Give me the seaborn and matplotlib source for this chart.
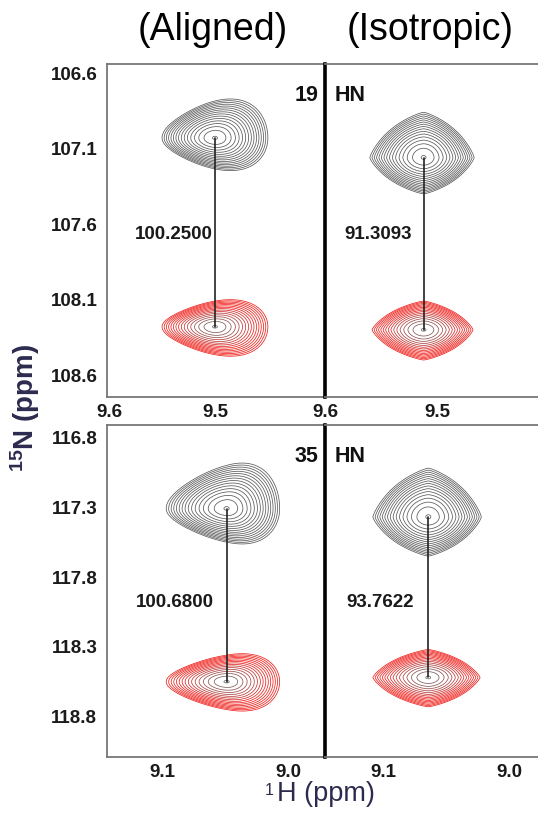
import numpy as np
import pandas as pd
import matplotlib
matplotlib.use("Agg")
import matplotlib.pyplot as plt
import seaborn as sns

# ---------------------------------------------------------------
# data (ppm)
# ---------------------------------------------------------------
residues = ["19", "35"]
coupling_aligned = ["100.2500", "100.6800"]
coupling_isotropic = ["91.3093", "93.7622"]

h_aligned = [9.500, 9.049]
h_isotropic = [9.512, 9.064]
n_upper_aligned = [107.03, 117.31]
n_lower_aligned = [108.28, 118.55]
n_upper_isotropic = [107.16, 117.37]
n_lower_isotropic = [108.30, 118.52]

# outer contour half widths: left, right, up, down
ext_upper_aligned = [(0.050, 0.050, 0.245, 0.205), (0.048, 0.042, 0.31, 0.24)]
ext_lower_aligned = [(0.050, 0.050, 0.170, 0.185), (0.048, 0.042, 0.19, 0.20)]
ext_upper_isotropic = [(0.048, 0.045, 0.30, 0.24), (0.044, 0.042, 0.35, 0.28)]
ext_lower_isotropic = [(0.046, 0.044, 0.19, 0.20), (0.044, 0.041, 0.20, 0.21)]

# where the coupling numbers sit (1H, 15N)
label_h_aligned = [9.539, 9.0905]
label_h_isotropic = [9.553, 9.1024]
label_n = [107.67, 117.98]

x_ticks = [[9.6, 9.5], [9.1, 9.0]]
y_ticks = [[106.6, 107.1, 107.6, 108.1, 108.6], [116.8, 117.3, 117.8, 118.3, 118.8]]
xlim_aligned = [(9.602, 9.396), (9.144, 8.971)]
xlim_isotropic = [(9.600, 9.410), (9.146, 8.977)]
ylims = [(108.745, 106.54), (119.09, 116.71)]

# ---------------------------------------------------------------
sns.set_style("white")
plt.rcParams["font.family"] = ["Liberation Sans", "DejaVu Sans"]
plt.rcParams["mathtext.fontset"] = "custom"
plt.rcParams["mathtext.rm"] = "Liberation Sans"
plt.rcParams["mathtext.bf"] = "Liberation Sans:bold"

fig = plt.figure(figsize=(5.38, 8.15), dpi=100)

row_boxes = [(0.5129, 0.4086), (0.0712, 0.4074)]
left_x, left_w = 0.1989, 0.4052
right_x, right_w = 0.6041, 0.3959


def peak_field(cx, cy, ext, p, tilt):
    wl, wr, wu, wd = ext
    xs = np.linspace(cx + wl * 1.3, cx - wr * 1.3, 400)
    ys = np.linspace(cy - wu * 1.3, cy + wd * 1.3, 400)
    X, Y = np.meshgrid(xs, ys)
    u = -(X - cx)
    u = np.where(u < 0, u / wl, u / wr)
    v = Y - cy
    v = np.where(v < 0, v / wu, v / wd)
    v = v / np.clip(1 + tilt * u, 0.2, None)
    # round in the middle, sharper toward the rim
    r = np.sqrt(u ** 2 + v ** 2)
    pr = (np.abs(u) ** p + np.abs(v) ** p) ** (1 / p)
    w = np.clip(r, 0, 1) ** 1.5
    return X, Y, (1 - w) * r + w * pr


levels = np.linspace(0.006, 1.0, 16) ** 0.6
gray_c = np.array([0.42, 0.42, 0.42])
red_c = np.array([0.94, 0.12, 0.10])
red_cols = [tuple(gray_c + (red_c - gray_c) * min(1, l ** 1.5 * 1.6)) for l in levels]


def draw_peak(ax, cx, cy, ext, p, tilt, red):
    X, Y, g = peak_field(cx, cy, ext, p, tilt)
    cols = red_cols if red else ["#5a5a5a"] * len(levels)
    ax.contour(X, Y, g, levels=levels, colors=cols, linewidths=0.55)


for r in range(2):
    bottom, height = row_boxes[r]
    ax_a = fig.add_axes([left_x, bottom, left_w, height])
    ax_i = fig.add_axes([right_x, bottom, right_w, height])

    # aligned
    draw_peak(ax_a, h_aligned[r], n_upper_aligned[r], ext_upper_aligned[r], 2.0, 0.35, False)
    draw_peak(ax_a, h_aligned[r], n_lower_aligned[r], ext_lower_aligned[r], 2.0, 0.35, True)
    # isotropic
    draw_peak(ax_i, h_isotropic[r], n_upper_isotropic[r], ext_upper_isotropic[r], 1.35, 0.0, False)
    draw_peak(ax_i, h_isotropic[r], n_lower_isotropic[r], ext_lower_isotropic[r], 1.35, 0.0, True)

    link_a = pd.DataFrame({"h": [h_aligned[r]] * 2, "n": [n_upper_aligned[r], n_lower_aligned[r]]})
    link_i = pd.DataFrame({"h": [h_isotropic[r]] * 2, "n": [n_upper_isotropic[r], n_lower_isotropic[r]]})
    sns.lineplot(data=link_a, x="h", y="n", ax=ax_a, color="#222222", linewidth=1.2,
                 estimator=None, sort=False)
    sns.lineplot(data=link_i, x="h", y="n", ax=ax_i, color="#222222", linewidth=1.2,
                 estimator=None, sort=False)

    ax_a.text(label_h_aligned[r], label_n[r], coupling_aligned[r], ha="center", va="center",
              fontsize=13.5, fontweight="bold", color="#1a1a1a")
    ax_i.text(label_h_isotropic[r], label_n[r], coupling_isotropic[r], ha="center", va="center",
              fontsize=13.5, fontweight="bold", color="#1a1a1a")
    ax_a.text(0.968, 0.905, residues[r], transform=ax_a.transAxes, ha="right", va="center",
              fontsize=15.5, fontweight="bold", color="#111111")
    ax_i.text(0.045, 0.905, "HN", transform=ax_i.transAxes, ha="left", va="center",
              fontsize=15.5, fontweight="bold", color="#111111")

    for ax, xl in ((ax_a, xlim_aligned[r]), (ax_i, xlim_isotropic[r])):
        ax.set_xlim(*xl)
        ax.set_ylim(*ylims[r])
        ax.set_xticks(x_ticks[r])
        ax.set_xticklabels([f"{t:.1f}" for t in x_ticks[r]], fontsize=13.5, fontweight="bold",
                           color="#1a1a1a")
        ax.set_yticks(y_ticks[r])
        ax.set_xlabel("")
        ax.set_ylabel("")
        ax.tick_params(axis="x", direction="in", length=3, width=1, color="#555555", pad=5)
        for s in ("top", "bottom", "left"):
            ax.spines[s].set_color("#777777")
            ax.spines[s].set_linewidth(1.3)
        ax.spines["right"].set_visible(False)

    ax_a.set_yticklabels([f"{t:.1f}" for t in y_ticks[r]], fontsize=13.5, fontweight="bold",
                         color="#1a1a1a")
    ax_a.tick_params(axis="y", direction="out", length=4, width=1, color="#555555", pad=3)
    ax_i.set_yticklabels([])
    ax_i.tick_params(axis="y", direction="in", length=4, width=1, color="#555555")
    ax_i.spines["left"].set_color("black")
    ax_i.spines["left"].set_linewidth(2.6)
    ax_i.set_zorder(3)

fig.text(0.396, 0.963, "(Aligned)", ha="center", va="center", fontsize=27, color="black")
fig.text(0.799, 0.963, "(Isotropic)", ha="center", va="center", fontsize=27, color="black")
fig.text(0.046, 0.5, r"$\mathbf{^{15}}$N (ppm)", rotation=90, ha="center", va="center",
         fontsize=20, fontweight="bold", color="#2c2b4f")
fig.text(0.515, 0.026, "H (ppm)", ha="left", va="center", fontsize=19.5, color="#2c2b4f")
fig.text(0.500, 0.039, "1", ha="center", va="top", fontsize=11.5, color="#2c2b4f")

fig.savefig("out.png", dpi=100)
